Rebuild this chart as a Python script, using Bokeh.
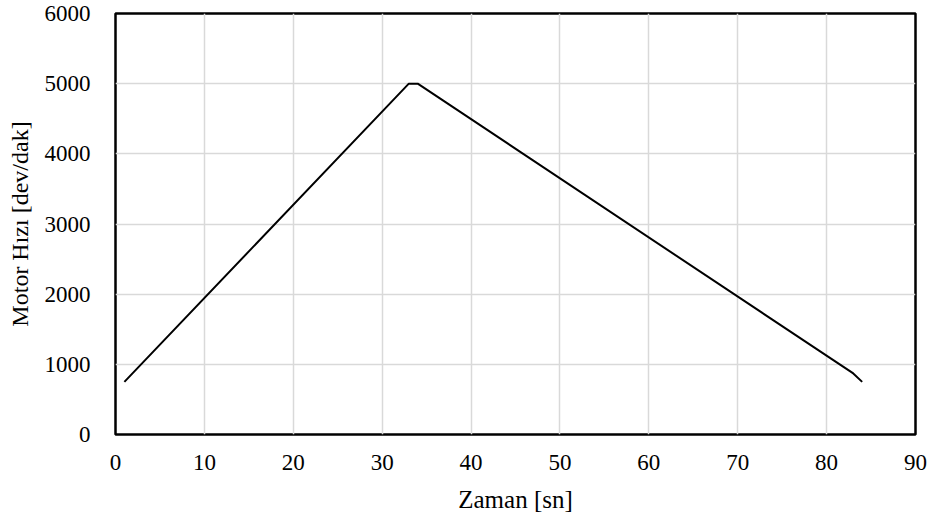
from bokeh.plotting import figure
from bokeh.models import ColumnDataSource, FixedTicker, Range1d
from bokeh.embed import file_html
from bokeh.resources import INLINE

# Data
time_s = [1, 33, 34, 83, 84]
speed_rpm = [750, 5000, 5000, 870, 750]
x_ticks = [0, 10, 20, 30, 40, 50, 60, 70, 80, 90]
y_ticks = [0, 1000, 2000, 3000, 4000, 5000, 6000]
x_label = "Zaman [sn]"
y_label = "Motor Hızı [dev/dak]"

FONT = "Liberation Serif"

p = figure(width=936, height=523, output_backend="svg", toolbar_location=None,
           x_range=Range1d(0, 90), y_range=Range1d(0, 6000),
           min_border_left=115, min_border_right=21, min_border_top=13, min_border_bottom=89)

src = ColumnDataSource(dict(x=time_s, y=speed_rpm))
p.line("x", "y", source=src, line_color="black", line_width=2)

p.outline_line_color = "black"
p.outline_line_width = 2.5
p.background_fill_color = "white"
p.border_fill_color = "white"

for g in (p.xgrid, p.ygrid):
    g.grid_line_color = "#d9d9d9"
    g.grid_line_width = 1.5

p.xaxis.ticker = FixedTicker(ticks=x_ticks)
p.yaxis.ticker = FixedTicker(ticks=y_ticks)
p.xaxis.axis_label = x_label
p.yaxis.axis_label = y_label

for ax in (p.xaxis, p.yaxis):
    ax.axis_line_color = None
    ax.major_tick_line_color = None
    ax.minor_tick_line_color = None
    ax.major_label_text_font = FONT
    ax.major_label_text_font_size = "23px"
    ax.major_label_text_color = "black"
    ax.axis_label_text_font = FONT
    ax.axis_label_text_font_style = "normal"
    ax.axis_label_text_color = "black"

p.xaxis.axis_label_text_font_size = "25px"
p.yaxis.axis_label_text_font_size = "24px"
p.xaxis.major_label_standoff = 14
p.yaxis.major_label_standoff = 19
p.xaxis.axis_label_standoff = 13
p.yaxis.axis_label_standoff = 9

open("out.html", "w").write(file_html(p, INLINE))
